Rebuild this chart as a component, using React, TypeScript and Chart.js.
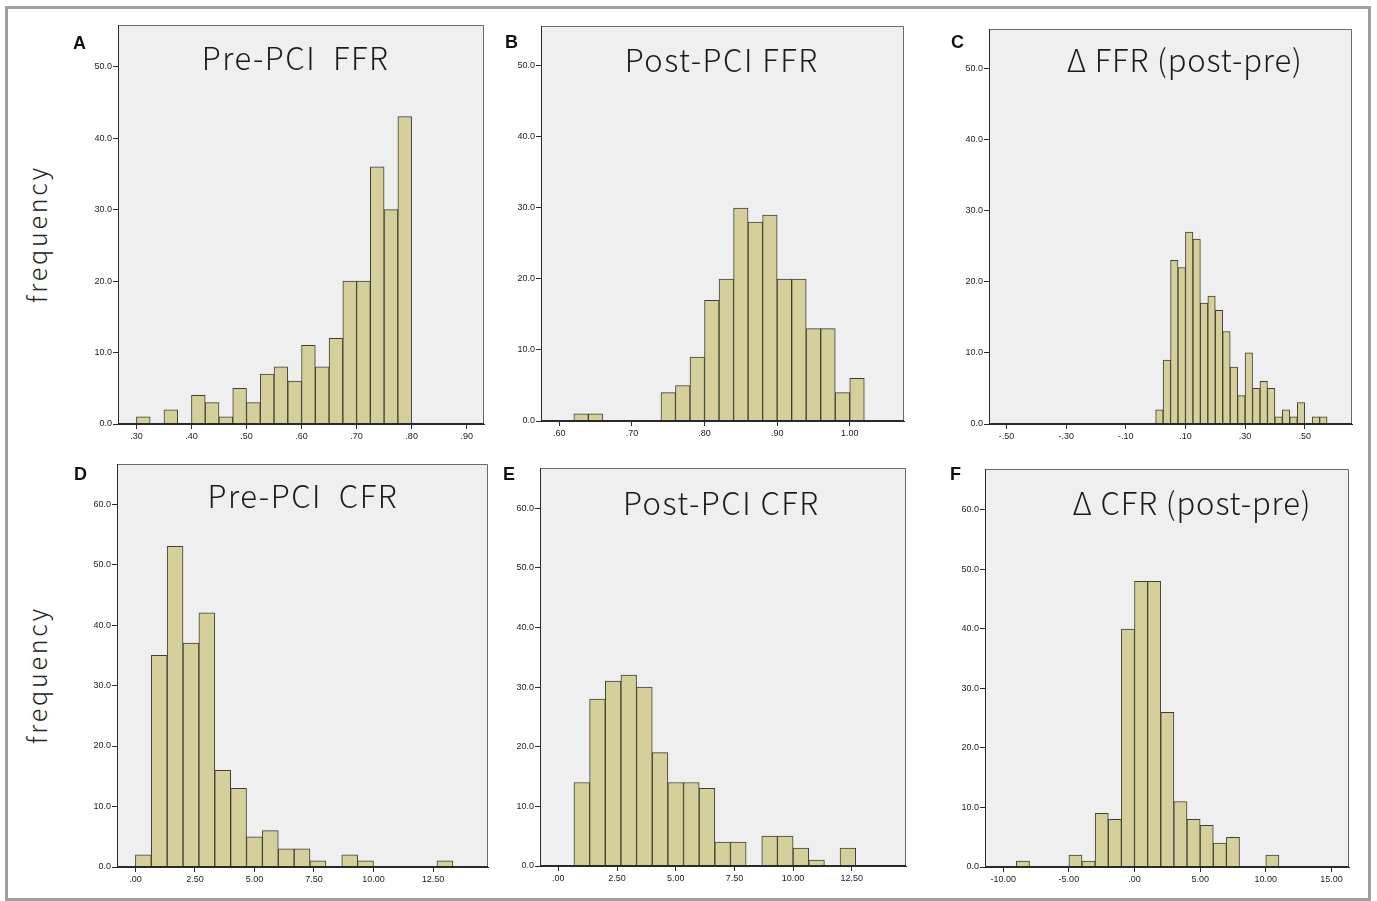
import React, { useEffect, useRef } from "react";
import { Chart, registerables } from "chart.js";

Chart.register(...registerables);

// ---------------- data ----------------
const preFfrBinStart = 0.3;
const preFfrBinWidth = 0.025;
const preFfrCounts = [1, 0, 2, 0, 4, 3, 1, 5, 3, 7, 8, 6, 11, 8, 12, 20, 20, 36, 30, 43];
const preFfrXTicks = [0.3, 0.4, 0.5, 0.6, 0.7, 0.8, 0.9];

const postFfrBinStart = 0.62;
const postFfrBinWidth = 0.02;
const postFfrCounts = [1, 1, 0, 0, 0, 0, 4, 5, 9, 17, 20, 30, 28, 29, 20, 20, 13, 13, 4, 6];
const postFfrXTicks = [0.6, 0.7, 0.8, 0.9, 1.0];

const deltaFfrBinStart = 0.0;
const deltaFfrBinWidth = 0.025;
const deltaFfrCounts = [2, 9, 23, 22, 27, 26, 17, 18, 16, 13, 8, 4, 10, 5, 6, 5, 1, 2, 1, 3, 0, 1, 1];
const deltaFfrXTicks = [-0.5, -0.3, -0.1, 0.1, 0.3, 0.5];

const preCfrBinStart = 0;
const preCfrBinWidth = 2 / 3;
const preCfrCounts = [2, 35, 53, 37, 42, 16, 13, 5, 6, 3, 3, 1, 0, 2, 1, 0, 0, 0, 0, 1];
const cfrXTicks = [0, 2.5, 5, 7.5, 10, 12.5];

const postCfrBinStart = 0;
const postCfrBinWidth = 2 / 3;
const postCfrCounts = [0, 14, 28, 31, 32, 30, 19, 14, 14, 13, 4, 4, 0, 5, 5, 3, 1, 0, 3];

const deltaCfrBinStart = -9;
const deltaCfrBinWidth = 1;
const deltaCfrCounts = [1, 0, 0, 0, 2, 1, 9, 8, 40, 48, 48, 26, 11, 8, 7, 4, 5, 0, 0, 2];
const deltaCfrXTicks = [-10, -5, 0, 5, 10, 15];

const ffrYTicks = [0, 10, 20, 30, 40, 50];
const cfrYTicks = [0, 10, 20, 30, 40, 50, 60];

// ---------------- styling / layout ----------------
const BAR_FILL = "#d5d09b";
const BAR_EDGE = "#3f3f30";
const PLOT_BG = "#efefef";
const AXIS_COLOR = "#2a2a2a";
const FRAME_COLOR = "#6a6a6a";
const TICK_FONT = "Liberation Sans";
const TITLE_FONT = '"Noto Sans CJK JP"';

const Y_W = 45;
const X_H = 28;
const PAD_T = 3;
const PAD_R = 10;

type PanelSpec = {
  letter: string;
  title: string;
  counts: number[];
  binStart: number;
  binWidth: number;
  xTicks: number[];
  yTicks: number[];
  xMin: number;
  xMax: number;
  yMax: number;
  box: [number, number, number, number]; // left, top, right, bottom (page px)
  titleDx: number;
  titleDy: number;
  titleSpacing: number;
  letterPos: [number, number];
};

const panels: PanelSpec[] = [
  {
    letter: "A", title: "Pre-PCI  FFR", counts: preFfrCounts, binStart: preFfrBinStart, binWidth: preFfrBinWidth,
    xTicks: preFfrXTicks, yTicks: ffrYTicks, xMin: 0.2665, xMax: 0.9315, yMax: 55.83,
    box: [118, 25, 484, 424], titleDx: 177.5, titleDy: 45, titleSpacing: 1.5, letterPos: [73, 49],
  },
  {
    letter: "B", title: "Post-PCI FFR", counts: postFfrCounts, binStart: postFfrBinStart, binWidth: postFfrBinWidth,
    xTicks: postFfrXTicks, yTicks: ffrYTicks, xMin: 0.5748, xMax: 1.0747, yMax: 55.63,
    box: [541, 26, 904, 421], titleDx: 180.7, titleDy: 45.7, titleSpacing: 1.5, letterPos: [505, 48],
  },
  {
    letter: "C", title: "\u0394 FFR (post-pre)", counts: deltaFfrCounts, binStart: deltaFfrBinStart, binWidth: deltaFfrBinWidth,
    xTicks: deltaFfrXTicks, yTicks: ffrYTicks, xMin: -0.559, xMax: 0.6586, yMax: 55.54,
    box: [989, 29, 1352, 424], titleDx: 195.7, titleDy: 42.5, titleSpacing: 0.9, letterPos: [951, 48],
  },
  {
    letter: "D", title: "Pre-PCI  CFR", counts: preCfrCounts, binStart: preCfrBinStart, binWidth: preCfrBinWidth,
    xTicks: cfrXTicks, yTicks: cfrYTicks, xMin: -0.774, xMax: 14.81, yMax: 66.62,
    box: [117, 464, 488, 867], titleDx: 185.8, titleDy: 44.3, titleSpacing: 1.5, letterPos: [74, 480],
  },
  {
    letter: "E", title: "Post-PCI CFR", counts: postCfrCounts, binStart: postCfrBinStart, binWidth: postCfrBinWidth,
    xTicks: cfrXTicks, yTicks: cfrYTicks, xMin: -0.78, xMax: 14.81, yMax: 66.72,
    box: [540, 468, 906, 866], titleDx: 181.3, titleDy: 47, titleSpacing: 1.5, letterPos: [503, 480],
  },
  {
    letter: "F", title: "\u0394 CFR (post-pre)", counts: deltaCfrCounts, binStart: deltaCfrBinStart, binWidth: deltaCfrBinWidth,
    xTicks: deltaCfrXTicks, yTicks: cfrYTicks, xMin: -11.39, xMax: 16.34, yMax: 66.88,
    box: [985, 469, 1349, 867], titleDx: 207, titleDy: 46, titleSpacing: 0.9, letterPos: [950, 480],
  },
];

function fmtX(v: number): string {
  const s = Number(v).toFixed(2);
  return s.replace(/^-0\./, "-.").replace(/^0\./, ".");
}

const decorPlugin = {
  id: "panelDecor",
  beforeDraw(chart: any) {
    const { ctx, chartArea } = chart;
    const { left, top, right, bottom } = chartArea;
    ctx.save();
    ctx.fillStyle = PLOT_BG;
    ctx.fillRect(left, top, right - left, bottom - top);
    ctx.restore();
  },
  afterDraw(chart: any, _args: any, opts: any) {
    const { ctx, chartArea } = chart;
    const { left, top, right, bottom } = chartArea;
    ctx.save();
    ctx.lineWidth = 1;
    ctx.strokeStyle = FRAME_COLOR;
    ctx.beginPath();
    ctx.moveTo(left, top + 0.5);
    ctx.lineTo(right - 0.5, top + 0.5);
    ctx.lineTo(right - 0.5, bottom);
    ctx.stroke();
    ctx.strokeStyle = AXIS_COLOR;
    ctx.beginPath();
    ctx.moveTo(left + 0.5, top);
    ctx.lineTo(left + 0.5, bottom - 0.5);
    ctx.lineTo(right, bottom - 0.5);
    ctx.stroke();
    ctx.fillStyle = "#1a1a1a";
    ctx.font = `300 31px ${TITLE_FONT}`;
    try {
      (ctx as any).letterSpacing = `${opts.spacing}px`;
    } catch (e) {
      /* ignore */
    }
    ctx.textAlign = "center";
    ctx.textBaseline = "alphabetic";
    ctx.fillText(opts.title, left + opts.dx, top + opts.dy);
    ctx.restore();
  },
};

function zeroPad(s: any) {
  s.paddingTop = 0;
  s.paddingBottom = 0;
  s.paddingLeft = 0;
  s.paddingRight = 0;
}

function Panel({ spec }: { spec: PanelSpec }) {
  const ref = useRef<HTMLCanvasElement | null>(null);
  const [L, T, R, B] = spec.box;
  const w = R - L + Y_W + PAD_R;
  const h = B - T + PAD_T + X_H;

  useEffect(() => {
    if (!ref.current) return;
    const data = spec.counts.map((c, i) => ({
      x: spec.binStart + (i + 0.5) * spec.binWidth,
      y: c === 0 ? null : c,
    }));
    const chart = new Chart(ref.current, {
      type: "bar",
      data: {
        datasets: [
          {
            data: data as any,
            backgroundColor: BAR_FILL,
            borderColor: BAR_EDGE,
            borderWidth: 1,
            borderSkipped: "start",
            barPercentage: 1,
            categoryPercentage: 1,
          },
        ],
      },
      options: {
        animation: false,
        responsive: false,
        maintainAspectRatio: false,
        devicePixelRatio: 1,
        layout: { autoPadding: false, padding: { top: PAD_T, right: PAD_R, left: 0, bottom: 0 } },
        plugins: {
          legend: { display: false },
          tooltip: { enabled: false },
          title: { display: false },
          panelDecor: { title: spec.title, dx: spec.titleDx, dy: spec.titleDy, spacing: spec.titleSpacing },
        } as any,
        scales: {
          x: {
            type: "linear",
            min: spec.xMin,
            max: spec.xMax,
            offset: false,
            afterFit: (s: any) => {
              s.height = X_H;
              zeroPad(s);
            },
            afterBuildTicks: (s: any) => {
              s.ticks = spec.xTicks.map((v) => ({ value: v }));
            },
            grid: { drawOnChartArea: false, drawTicks: true, tickLength: 5, color: AXIS_COLOR, offset: false },
            border: { display: true, color: AXIS_COLOR, width: 1 },
            ticks: {
              autoSkip: false,
              maxRotation: 0,
              minRotation: 0,
              padding: 2,
              color: "#222",
              font: { family: TICK_FONT, size: 9 },
              callback: (v: any) => fmtX(Number(v)),
            },
          },
          y: {
            type: "linear",
            min: 0,
            max: spec.yMax,
            afterFit: (s: any) => {
              s.width = Y_W;
              zeroPad(s);
            },
            afterBuildTicks: (s: any) => {
              s.ticks = spec.yTicks.map((v) => ({ value: v }));
            },
            grid: { drawOnChartArea: false, drawTicks: true, tickLength: 5, color: AXIS_COLOR },
            border: { display: true, color: AXIS_COLOR, width: 1 },
            ticks: {
              padding: 1,
              color: "#222",
              font: { family: TICK_FONT, size: 9 },
              callback: (v: any) => Number(v).toFixed(1),
            },
          },
        },
      },
      plugins: [decorPlugin as any],
    });
    return () => chart.destroy();
  }, [spec]);

  return (
    <>
      <canvas
        ref={ref}
        width={w}
        height={h}
        style={{ position: "absolute", left: L - Y_W, top: T - PAD_T, width: w, height: h }}
      />
      <div
        style={{
          position: "absolute",
          left: spec.letterPos[0],
          top: spec.letterPos[1] - 15.5,
          font: `bold 18px "Liberation Sans"`,
          lineHeight: "18px",
          color: "#111",
        }}
      >
        {spec.letter}
      </div>
    </>
  );
}

function FreqLabel({ cx, cy }: { cx: number; cy: number }) {
  return (
    <div
      style={{
        position: "absolute",
        left: cx - 100,
        top: cy - 15,
        width: 200,
        height: 30,
        lineHeight: "30px",
        textAlign: "center",
        font: `300 25px ${TITLE_FONT}`,
        letterSpacing: "2.8px",
        color: "#222",
        transform: "rotate(-90deg)",
      }}
    >
      frequency
    </div>
  );
}

export default function App() {
  return (
    <div
      style={{
        position: "absolute",
        left: 0,
        top: 0,
        width: 1377,
        height: 901,
        background: "#ffffff",
        overflow: "hidden",
      }}
    >
      <div
        style={{
          position: "absolute",
          left: 5,
          top: 6,
          width: 1366,
          height: 895,
          boxSizing: "border-box",
          border: "3px solid #a0a0a0",
        }}
      />
      <FreqLabel cx={33} cy={234} />
      <FreqLabel cx={33} cy={675} />
      {panels.map((p) => (
        <Panel key={p.letter} spec={p} />
      ))}
    </div>
  );
}
